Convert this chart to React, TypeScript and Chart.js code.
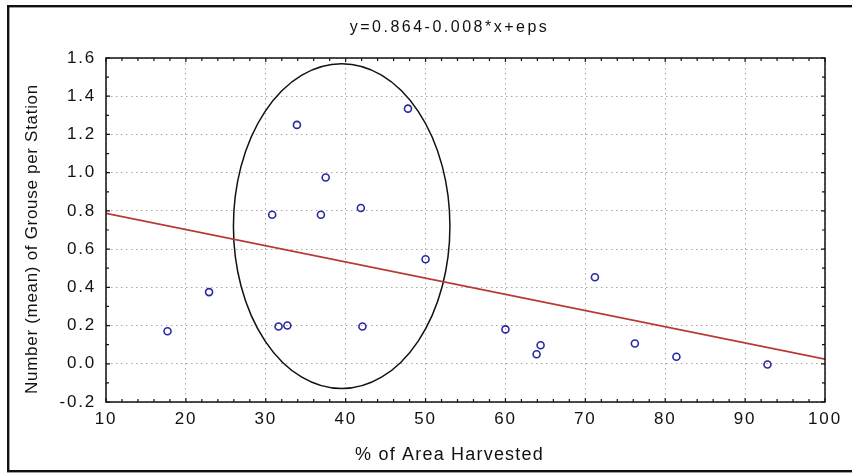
import React, { useEffect, useRef } from 'react';
import { Chart, registerables } from 'chart.js';

Chart.register(...registerables);

// ---- data ----
const harvestPct = [17.7, 22.9, 30.8, 31.6, 32.7, 33.9, 36.9, 37.5, 41.9, 42.1, 47.8, 50.0, 60.0, 63.9, 64.4, 71.2, 76.2, 81.4, 92.8];
const grouseMean = [0.17, 0.375, 0.78, 0.195, 0.2, 1.25, 0.78, 0.975, 0.815, 0.195, 1.335, 0.547, 0.18, 0.05, 0.097, 0.453, 0.106, 0.037, -0.004];
const fitX = [10, 100];
const fitY = [0.787, 0.024];
const ellipseCenter = [39.5, 0.72];
const ellipseRadius = [13.55, 0.85];
const xTicks = [10, 20, 30, 40, 50, 60, 70, 80, 90, 100];
const yTicks = [-0.2, 0.0, 0.2, 0.4, 0.6, 0.8, 1.0, 1.2, 1.4, 1.6];
const titleText = 'y=0.864-0.008*x+eps';
const xTitle = '% of Area Harvested';
const yTitle = 'Number (mean) of Grouse per Station';

const FONT = '"Liberation Sans", Arial, Helvetica, sans-serif';

const decorPlugin = {
  id: 'decor',
  beforeDraw(chart: any) {
    (chart.ctx as any).letterSpacing = '1.8px';
  },
  beforeDatasetsDraw(chart: any) {
    const ctx = chart.ctx;
    (ctx as any).letterSpacing = '0px';
    const xs = chart.scales.x;
    const ys = chart.scales.y;
    const cx = xs.getPixelForValue(ellipseCenter[0]);
    const cy = ys.getPixelForValue(ellipseCenter[1]);
    const rx = xs.getPixelForValue(ellipseCenter[0] + ellipseRadius[0]) - cx;
    const ry = cy - ys.getPixelForValue(ellipseCenter[1] + ellipseRadius[1]);
    ctx.save();
    ctx.strokeStyle = '#111';
    ctx.lineWidth = 1.5;
    ctx.beginPath();
    ctx.ellipse(cx, cy, rx, ry, 0, 0, Math.PI * 2);
    ctx.stroke();
    ctx.restore();
  },
  afterDraw(chart: any) {
    const ctx = chart.ctx;
    const { left, right, top, bottom } = chart.chartArea;
    const xs = chart.scales.x;
    const ys = chart.scales.y;
    ctx.save();
    (ctx as any).letterSpacing = '0px';
    // plot frame
    ctx.strokeStyle = '#111';
    ctx.lineWidth = 1.5;
    ctx.strokeRect(left, top, right - left, bottom - top);
    // inner ticks
    ctx.lineWidth = 1.2;
    ctx.beginPath();
    for (let v = xTicks[0]; v <= xTicks[xTicks.length - 1] + 1e-9; v += 2) {
      const px = xs.getPixelForValue(v);
      const len = Math.abs(v % 10) < 1e-6 ? 4 : 3;
      ctx.moveTo(px, bottom); ctx.lineTo(px, bottom - len);
      ctx.moveTo(px, top); ctx.lineTo(px, top + len);
    }
    for (let i = 0; i <= 18; i++) {
      const v = yTicks[0] + i * 0.1;
      const py = ys.getPixelForValue(v);
      const len = i % 2 === 0 ? 4 : 3;
      ctx.moveTo(left, py); ctx.lineTo(left + len, py);
      ctx.moveTo(right, py); ctx.lineTo(right - len, py);
    }
    ctx.stroke();
    // outer frame
    ctx.lineWidth = 2.4;
    ctx.strokeRect(8.2, 6.2, 900, 465);
    // texts
    ctx.fillStyle = '#111';
    ctx.textAlign = 'center';
    ctx.textBaseline = 'alphabetic';
    ctx.font = '16px ' + FONT;
    (ctx as any).letterSpacing = '2.5px';
    ctx.fillText(titleText, 449.5, 32);
    ctx.font = '18px ' + FONT;
    (ctx as any).letterSpacing = '1.2px';
    ctx.fillText(xTitle, 449.5, 460);
    ctx.translate(36.5, 239);
    ctx.rotate(-Math.PI / 2);
    ctx.font = '17px ' + FONT;
    (ctx as any).letterSpacing = '0.7px';
    ctx.fillText(yTitle, 0, 0);
    ctx.restore();
  },
};

export default function App() {
  const canvasRef = useRef<HTMLCanvasElement | null>(null);

  useEffect(() => {
    const canvas = canvasRef.current;
    if (!canvas) return;
    const points = harvestPct.map((x, i) => ({ x, y: grouseMean[i] }));
    const fit = fitX.map((x, i) => ({ x, y: fitY[i] }));
    const chart = new Chart(canvas, {
      type: 'scatter',
      data: {
        datasets: [
          {
            type: 'line',
            label: 'fit',
            data: fit,
            borderColor: '#b83a36',
            borderWidth: 1.6,
            pointRadius: 0,
            fill: false,
          } as any,
          {
            label: 'stations',
            data: points,
            pointStyle: 'circle',
            pointRadius: 3.5,
            pointBorderWidth: 1.6,
            borderColor: '#2828a0',
            backgroundColor: 'rgba(0,0,0,0)',
          },
        ],
      },
      options: {
        responsive: false,
        animation: false,
        events: [],
        layout: { padding: { left: 0, right: 27, top: 58, bottom: 0 } },
        plugins: {
          legend: { display: false },
          title: { display: false },
          tooltip: { enabled: false },
        },
        scales: {
          x: {
            type: 'linear',
            min: xTicks[0],
            max: xTicks[xTicks.length - 1],
            afterBuildTicks: (s: any) => { s.ticks = xTicks.map((v) => ({ value: v })); },
            afterFit: (s: any) => { s.height = 73; },
            grid: { color: '#a8a8a8', lineWidth: 1, drawTicks: false },
            border: { display: false, dash: [1.5, 3.5] },
            ticks: {
              padding: 7,
              color: '#111',
              font: { family: FONT, size: 17 },
              maxRotation: 0,
              callback: (v: any) => String(v),
            },
          },
          y: {
            type: 'linear',
            min: yTicks[0],
            max: yTicks[yTicks.length - 1],
            afterBuildTicks: (s: any) => { s.ticks = yTicks.map((v) => ({ value: v })); },
            afterFit: (s: any) => { s.width = 106; },
            grid: { color: '#a8a8a8', lineWidth: 1, drawTicks: false },
            border: { display: false, dash: [1.5, 3.5] },
            ticks: {
              padding: 10,
              color: '#111',
              font: { family: FONT, size: 17 },
              callback: (v: any) => Number(v).toFixed(1),
            },
          },
        },
      },
      plugins: [decorPlugin],
    });
    return () => chart.destroy();
  }, []);

  return (
    <div style={{ position: 'fixed', left: 0, top: 0, width: 852, height: 475, background: '#fff' }}>
      <canvas ref={canvasRef} width={852} height={475} style={{ width: 852, height: 475, display: 'block' }} />
    </div>
  );
}
